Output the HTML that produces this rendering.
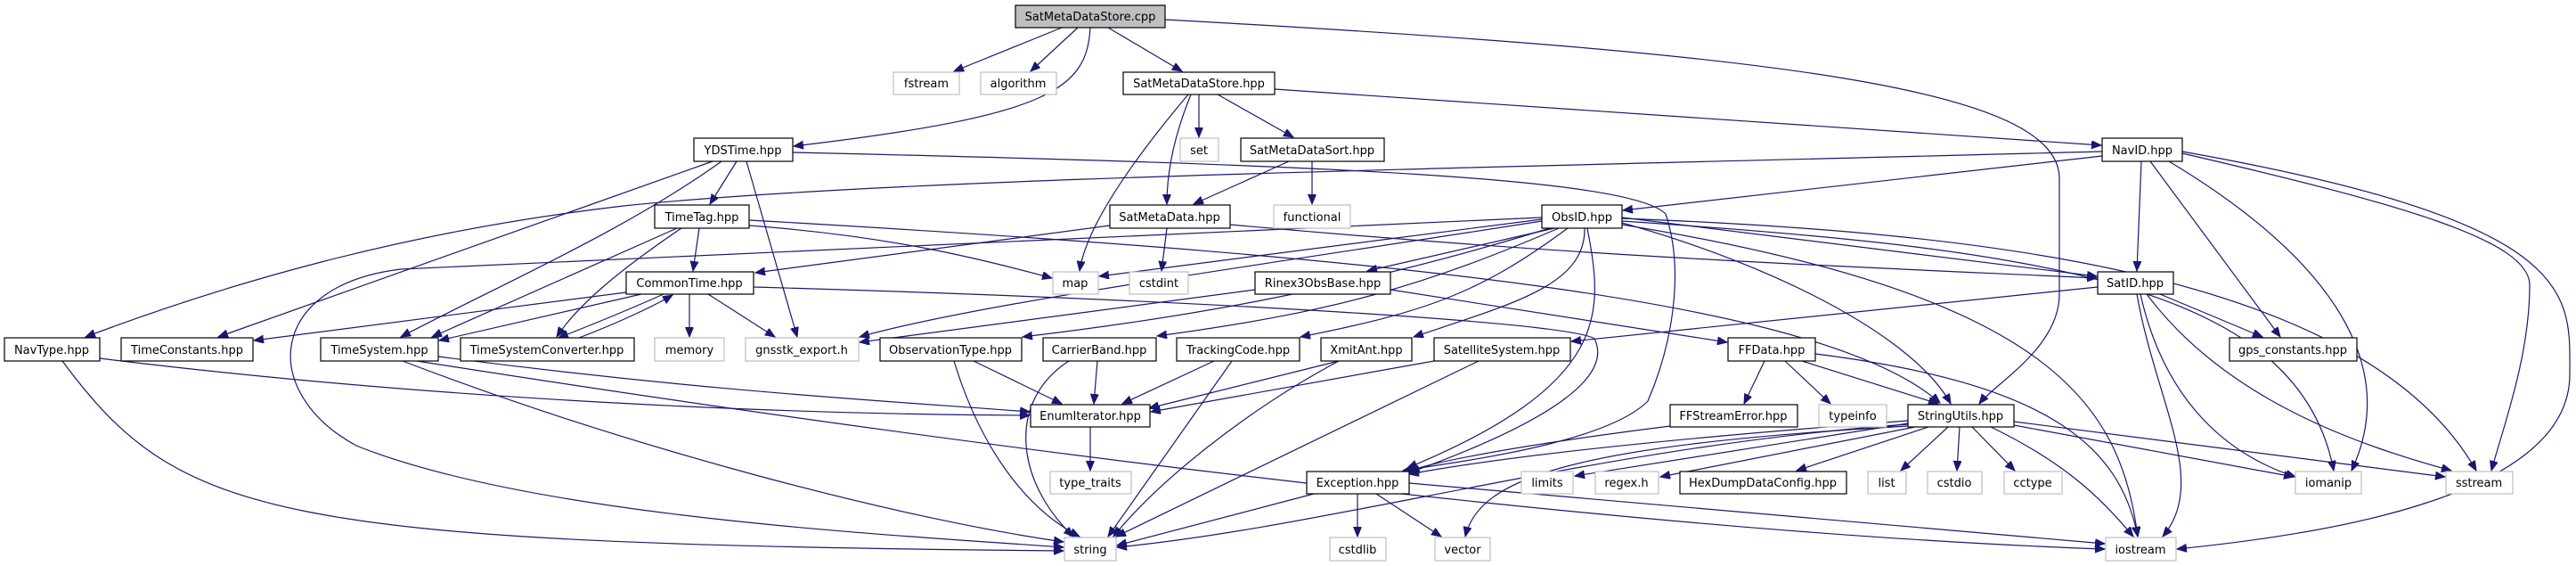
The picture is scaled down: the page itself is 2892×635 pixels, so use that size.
<!DOCTYPE html>
<html><head><meta charset="utf-8"><style>
html,body{margin:0;padding:0;background:#fff;}
svg{display:block;}
text{font-family:"DejaVu Sans","Liberation Sans",sans-serif;font-size:13px;fill:#000;text-anchor:middle;}
.n{fill:#fff;stroke:#000;stroke-width:1.2;}
.g{fill:#fff;stroke:#bfbfbf;stroke-width:1.2;}
.e path{fill:none;stroke:#191970;stroke-width:1.2;marker-end:url(#a);}
</style></head><body>
<svg width="2892" height="635" viewBox="0 0 2892 635" xmlns="http://www.w3.org/2000/svg">
<defs><marker id="a" markerUnits="userSpaceOnUse" markerWidth="12" markerHeight="10" refX="11" refY="4.5" orient="auto"><path d="M0,0 L11,4.5 L0,9 z" fill="#191970" stroke="#191970"/></marker></defs>
<g class="e">
<path d="M1192,31 L1071,80"/>
<path d="M1210,31 L1157,80"/>
<path d="M1244,31 L1327,80"/>
<path d="M1224,31 C1220,100 1180,130 891,164"/>
<path d="M1308,22 C2000,60 2312,100 2312,200 L2312,330 C2312,390 2240,430 2222,453"/>
<path d="M1334,106 C1280,170 1220,250 1212,304"/>
<path d="M1337,106 C1315,160 1310,200 1310,229"/>
<path d="M1346,106 L1346,154"/>
<path d="M1367,106 L1452,154"/>
<path d="M1431,100 L2359,163"/>
<path d="M1447,181 L1340,229"/>
<path d="M1473,181 L1473,229"/>
<path d="M827,181 L797,229"/>
<path d="M800,181 L245,378"/>
<path d="M810,181 C700,260 560,320 450,378"/>
<path d="M838,181 L895,378"/>
<path d="M890,171 C1500,185 1830,200 1870,240 C1890,300 1880,380 1850,450 C1800,500 1620,520 1575,528"/>
<path d="M2360,170 C1600,190 1000,200 700,231 C450,260 250,320 96,378"/>
<path d="M2360,175 L1822,236"/>
<path d="M2404,181 L2399,304"/>
<path d="M2414,181 L2560,378"/>
<path d="M2435,181 C2600,280 2700,400 2640,528"/>
<path d="M2450,172 C2700,230 2840,270 2840,320 C2840,400 2810,480 2797,528"/>
<path d="M2450,170 C2900,250 2885,330 2885,420 C2885,560 2600,600 2444,616"/>
<path d="M785,256 L778,304"/>
<path d="M760,256 L485,378"/>
<path d="M765,256 C700,300 650,340 625,378"/>
<path d="M841,253 C1000,265 1100,290 1181,312"/>
<path d="M841,247 C1600,290 2050,340 2178,452"/>
<path d="M1246,253 L848,306"/>
<path d="M1310,256 L1304,304"/>
<path d="M1381,252 C1800,290 2100,300 2354,312"/>
<path d="M1731,246 L1234,310"/>
<path d="M1731,244 C1200,270 700,290 450,302 C300,320 290,440 400,500 C600,580 1000,600 1194,614"/>
<path d="M1731,248 C1400,300 1100,340 965,378"/>
<path d="M1745,256 L1535,304"/>
<path d="M1740,256 C1500,330 1300,360 1148,378"/>
<path d="M1750,256 C1600,320 1500,350 1299,377"/>
<path d="M1760,256 C1660,330 1600,350 1460,378"/>
<path d="M1779,256 C1780,320 1700,340 1587,378"/>
<path d="M1782,256 C1800,350 1810,430 1580,525"/>
<path d="M1821,244 L2354,310"/>
<path d="M1821,245 C2200,260 2650,300 2780,528"/>
<path d="M1821,248 C2300,280 2580,320 2620,528"/>
<path d="M1821,252 C2300,330 2380,450 2400,602"/>
<path d="M1821,250 C2000,300 2150,380 2190,453"/>
<path d="M703,328 L285,382"/>
<path d="M720,330 L493,382"/>
<path d="M745,330 C700,350 650,370 627,379"/>
<path d="M650,379 C700,360 740,340 755,331"/>
<path d="M774,330 L774,378"/>
<path d="M795,330 L870,378"/>
<path d="M846,322 C1300,335 1760,360 1790,380 C1810,420 1750,470 1583,530"/>
<path d="M492,400 C800,440 1000,450 1156,462"/>
<path d="M452,405 C700,500 1000,580 1194,608"/>
<path d="M468,405 C1200,520 1900,600 2363,616"/>
<path d="M112,402 C500,450 900,465 1156,466"/>
<path d="M70,405 C200,580 300,610 1194,618"/>
<path d="M1409,325 L965,384"/>
<path d="M1561,325 L1939,384"/>
<path d="M2355,322 L1764,383"/>
<path d="M2425,330 L2540,378"/>
<path d="M2403,330 C2430,450 2500,510 2577,535"/>
<path d="M2410,330 C2500,450 2650,500 2752,528"/>
<path d="M2399,330 C2420,450 2480,540 2428,602"/>
<path d="M1093,405 L1192,453"/>
<path d="M1071,405 C1100,500 1150,570 1212,602"/>
<path d="M1232,405 L1228,453"/>
<path d="M1200,405 C1130,450 1140,540 1205,602"/>
<path d="M1363,405 L1260,453"/>
<path d="M1383,405 L1244,602"/>
<path d="M1503,405 L1290,458"/>
<path d="M1503,405 C1400,460 1300,540 1250,602"/>
<path d="M1610,405 L1292,462"/>
<path d="M1660,405 L1253,602"/>
<path d="M1224,479 L1224,528"/>
<path d="M1981,405 L1958,453"/>
<path d="M2004,405 L2055,453"/>
<path d="M2023,405 L2176,453"/>
<path d="M2038,397 C2300,430 2380,500 2400,602"/>
<path d="M1875,478 C1700,500 1600,520 1578,530"/>
<path d="M2142,472 C1900,490 1700,510 1582,532"/>
<path d="M2142,475 L1768,534"/>
<path d="M2150,479 L1864,535"/>
<path d="M2165,479 L2017,528"/>
<path d="M2187,479 L2134,528"/>
<path d="M2200,479 L2197,528"/>
<path d="M2214,479 L2262,528"/>
<path d="M2261,477 L2575,535"/>
<path d="M2261,473 L2745,535"/>
<path d="M2235,479 C2320,520 2360,560 2395,602"/>
<path d="M2142,476 C1800,500 1500,590 1254,614"/>
<path d="M2142,478 C1750,500 1660,540 1645,602"/>
<path d="M1475,554 L1254,612"/>
<path d="M1524,554 L1524,602"/>
<path d="M1545,554 L1618,602"/>
<path d="M1582,542 L2363,610"/>
</g>
<g>
<rect x="1140" y="6" width="168" height="25" fill="#bfbfbf" stroke="#000" stroke-width="1.2"/><text x="1224" y="23">SatMetaDataStore.cpp</text>
<rect class="g" x="1003" y="81" width="74" height="25"/><text x="1040" y="98">fstream</text>
<rect class="g" x="1101" y="81" width="85" height="25"/><text x="1143" y="98">algorithm</text>
<rect class="n" x="1261" y="81" width="170" height="25"/><text x="1346" y="98">SatMetaDataStore.hpp</text>
<rect class="n" x="779" y="155" width="111" height="26"/><text x="834" y="173">YDSTime.hpp</text>
<rect class="g" x="1325" y="155" width="43" height="26"/><text x="1346" y="173">set</text>
<rect class="n" x="1393" y="155" width="161" height="26"/><text x="1473" y="173">SatMetaDataSort.hpp</text>
<rect class="n" x="2360" y="155" width="90" height="26"/><text x="2405" y="173">NavID.hpp</text>
<rect class="n" x="735" y="230" width="106" height="26"/><text x="788" y="248">TimeTag.hpp</text>
<rect class="n" x="1246" y="230" width="135" height="26"/><text x="1313" y="248">SatMetaData.hpp</text>
<rect class="g" x="1430" y="230" width="86" height="26"/><text x="1473" y="248">functional</text>
<rect class="n" x="1731" y="230" width="90" height="26"/><text x="1776" y="248">ObsID.hpp</text>
<rect class="n" x="703" y="305" width="143" height="25"/><text x="774" y="322">CommonTime.hpp</text>
<rect class="g" x="1182" y="305" width="51" height="25"/><text x="1207" y="322">map</text>
<rect class="g" x="1268" y="305" width="66" height="25"/><text x="1301" y="322">cstdint</text>
<rect class="n" x="1409" y="305" width="152" height="25"/><text x="1485" y="322">Rinex3ObsBase.hpp</text>
<rect class="n" x="2355" y="305" width="85" height="25"/><text x="2397" y="322">SatID.hpp</text>
<rect class="n" x="5" y="379" width="107" height="26"/><text x="58" y="397">NavType.hpp</text>
<rect class="n" x="136" y="379" width="148" height="26"/><text x="210" y="397">TimeConstants.hpp</text>
<rect class="n" x="360" y="379" width="132" height="26"/><text x="426" y="397">TimeSystem.hpp</text>
<rect class="n" x="517" y="379" width="195" height="26"/><text x="614" y="397">TimeSystemConverter.hpp</text>
<rect class="g" x="735" y="379" width="78" height="26"/><text x="774" y="397">memory</text>
<rect class="g" x="837" y="379" width="127" height="26"/><text x="900" y="397">gnsstk_export.h</text>
<rect class="n" x="988" y="379" width="159" height="26"/><text x="1067" y="397">ObservationType.hpp</text>
<rect class="n" x="1171" y="379" width="127" height="26"/><text x="1234" y="397">CarrierBand.hpp</text>
<rect class="n" x="1321" y="379" width="138" height="26"/><text x="1390" y="397">TrackingCode.hpp</text>
<rect class="n" x="1483" y="379" width="102" height="26"/><text x="1534" y="397">XmitAnt.hpp</text>
<rect class="n" x="1610" y="379" width="153" height="26"/><text x="1686" y="397">SatelliteSystem.hpp</text>
<rect class="n" x="1940" y="379" width="98" height="26"/><text x="1989" y="397">FFData.hpp</text>
<rect class="n" x="2503" y="379" width="143" height="26"/><text x="2574" y="397">gps_constants.hpp</text>
<rect class="n" x="1157" y="454" width="134" height="25"/><text x="1224" y="471">EnumIterator.hpp</text>
<rect class="n" x="1875" y="454" width="143" height="25"/><text x="1946" y="471">FFStreamError.hpp</text>
<rect class="g" x="2042" y="454" width="76" height="25"/><text x="2080" y="471">typeinfo</text>
<rect class="n" x="2142" y="454" width="119" height="25"/><text x="2201" y="471">StringUtils.hpp</text>
<rect class="g" x="1179" y="529" width="91" height="25"/><text x="1224" y="546">type_traits</text>
<rect class="n" x="1467" y="529" width="115" height="25"/><text x="1524" y="546">Exception.hpp</text>
<rect class="g" x="1708" y="529" width="58" height="25"/><text x="1737" y="546">limits</text>
<rect class="g" x="1791" y="529" width="71" height="25"/><text x="1826" y="546">regex.h</text>
<rect class="n" x="1886" y="529" width="187" height="25"/><text x="1979" y="546">HexDumpDataConfig.hpp</text>
<rect class="g" x="2097" y="529" width="43" height="25"/><text x="2118" y="546">list</text>
<rect class="g" x="2164" y="529" width="61" height="25"/><text x="2194" y="546">cstdio</text>
<rect class="g" x="2250" y="529" width="65" height="25"/><text x="2282" y="546">cctype</text>
<rect class="g" x="2577" y="529" width="74" height="25"/><text x="2614" y="546">iomanip</text>
<rect class="g" x="2746" y="529" width="75" height="25"/><text x="2783" y="546">sstream</text>
<rect class="g" x="1195" y="603" width="58" height="26"/><text x="1224" y="621">string</text>
<rect class="g" x="1493" y="603" width="63" height="26"/><text x="1524" y="621">cstdlib</text>
<rect class="g" x="1611" y="603" width="62" height="26"/><text x="1642" y="621">vector</text>
<rect class="g" x="2364" y="603" width="79" height="26"/><text x="2403" y="621">iostream</text>
</g>
</svg>
</body></html>
